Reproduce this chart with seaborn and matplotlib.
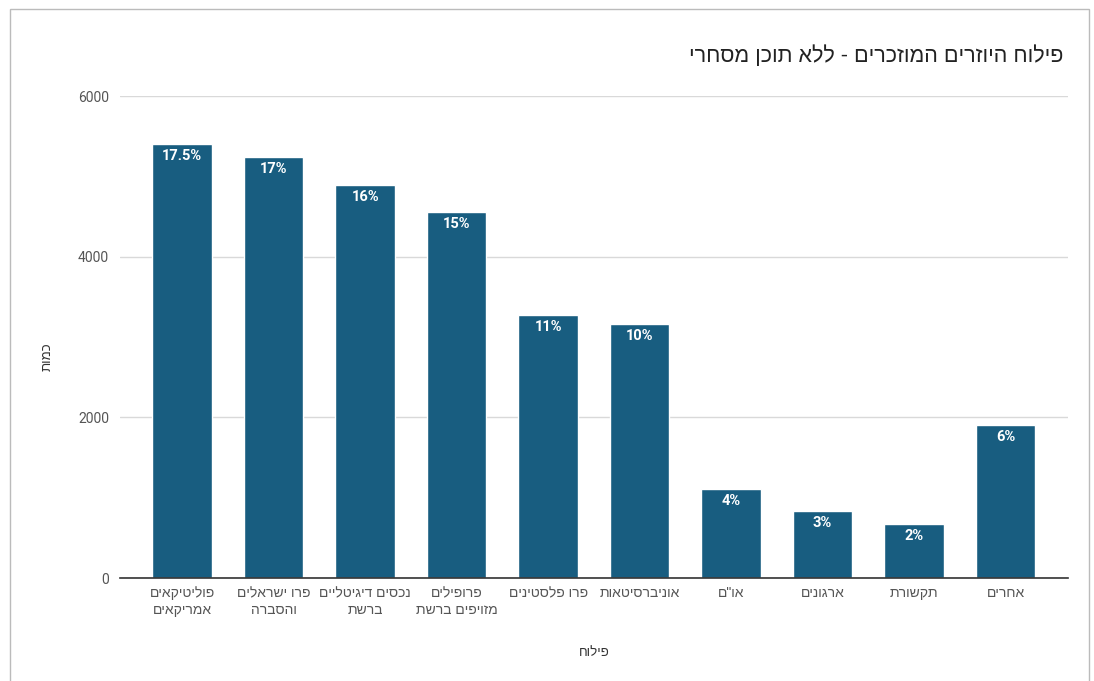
import matplotlib
matplotlib.use("Agg")
import matplotlib.pyplot as plt
import seaborn as sns
import pandas as pd
from matplotlib.patches import Rectangle

# data
categories = ["פוליטיקאים\nאמריקאים", "פרו ישראלים\nוהסברה", "נכסים דיגיטליים\nברשת",
              "פרופילים\nמזויפים ברשת", "פרו פלסטינים", "אוניברסיטאות", "או\"ם",
              "ארגונים", "תקשורת", "אחרים"]
counts = [5400, 5240, 4890, 4560, 3275, 3160, 1110, 835, 670, 1905]
pct_labels = ["17.5%", "17%", "16%", "15%", "11%", "10%", "4%", "3%", "2%", "6%"]
title = "פילוח היוזרים המוזכרים - ללא תוכן מסחרי"
xlabel = "פילוח"
ylabel = "כמות"


def rtl(s):
    # matplotlib has no bidi support: flip each line for display
    return "\n".join(line[::-1] for line in s.split("\n"))


sns.set_theme(style="white")
plt.rcParams["font.family"] = ["Liberation Sans", "DejaVu Sans"]

df = pd.DataFrame({"cat": [rtl(c) for c in categories], "count": counts})

fig = plt.figure(figsize=(10.94, 6.81), dpi=100)
ax = fig.add_axes([0.1097, 0.1512, 0.8663, 0.7078])

sns.barplot(data=df, x="cat", y="count", color="#185d80", width=0.65,
            saturation=1, ax=ax, zorder=3)

ax.set_ylim(0, 6000)
ax.set_yticks([0, 2000, 4000, 6000])
ax.yaxis.grid(True, color="#d9d9d9", linewidth=1, zorder=0)
for s in ["top", "right", "left"]:
    ax.spines[s].set_visible(False)
ax.spines["bottom"].set_color("#333333")
ax.spines["bottom"].set_linewidth(1.2)
ax.spines["bottom"].set_zorder(4)
ax.tick_params(axis="both", length=0, colors="#555555", labelsize=10)
ax.tick_params(axis="y", pad=8)
ax.tick_params(axis="x", pad=6)
for t in ax.get_yticklabels():
    t.set_family(["Roboto", "DejaVu Sans"])
ax.set_xlim(-0.68, 9.68)

ax.set_xlabel(rtl(xlabel), fontsize=9.5, color="#333333", labelpad=22)
ax.set_ylabel(rtl(ylabel), fontsize=9.5, color="#333333", labelpad=22)
ax.yaxis.set_label_coords(-0.07, 0.46)

for i, (v, lab) in enumerate(zip(counts, pct_labels)):
    ax.text(i, v - 150, lab, ha="center", va="center", color="white",
            fontsize=10.5, fontweight="bold", family=["Roboto", "DejaVu Sans"], zorder=5)

fig.text(0.972, 0.918, rtl(title), ha="right", va="center", fontsize=15.5, color="#222222")

# thin frame around the whole chart
fig.patches.append(Rectangle((0.009, -0.01), 0.986, 0.997, transform=fig.transFigure,
                             fill=False, edgecolor="#bbbbbb", linewidth=1))

fig.savefig("out.png", dpi=100)
